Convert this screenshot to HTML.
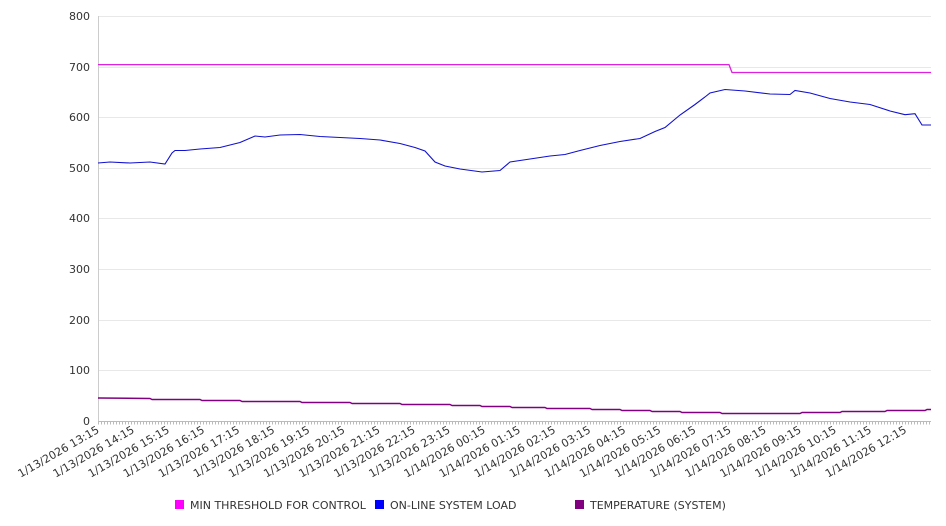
<!DOCTYPE html>
<html><head><meta charset="utf-8"><style>
body{margin:0;background:#fff;}
svg{display:block;font-family:"DejaVu Sans","Liberation Sans",sans-serif;}
</style></head><body>
<svg width="946" height="526" viewBox="0 0 946 526">
<g stroke="#e8e8e8" stroke-width="1">
<line x1="98" y1="16.5" x2="931" y2="16.5"/><line x1="98" y1="67.5" x2="931" y2="67.5"/><line x1="98" y1="117.5" x2="931" y2="117.5"/><line x1="98" y1="168.5" x2="931" y2="168.5"/><line x1="98" y1="218.5" x2="931" y2="218.5"/><line x1="98" y1="269.5" x2="931" y2="269.5"/><line x1="98" y1="320.5" x2="931" y2="320.5"/><line x1="98" y1="370.5" x2="931" y2="370.5"/>
</g>
<line x1="98.5" y1="16" x2="98.5" y2="421" stroke="#ccc"/>
<line x1="98" y1="421.5" x2="931" y2="421.5" stroke="#bbb"/>
<line x1="98" y1="423" x2="931" y2="423" stroke="#bbb" stroke-width="3" stroke-dasharray="1 2"/>
<g font-size="11" fill="#333" text-anchor="end">
<text x="90" y="20">800</text><text x="90" y="71">700</text><text x="90" y="121">600</text><text x="90" y="172">500</text><text x="90" y="222">400</text><text x="90" y="273">300</text><text x="90" y="324">200</text><text x="90" y="374">100</text><text x="90" y="425">0</text>
</g>
<polyline fill="none" stroke="#e020e0" stroke-width="1.3" points="98,64.6 729,64.6 732,72.5 931,72.5"/>
<polyline fill="none" stroke="#1010d0" stroke-width="1.1" points="98,163 110,162 130,163 150,162 165,164 172,153 175,150.5 185,150.5 200,149 220,147.5 240,142.5 255,136 265,137 280,135 300,134.5 320,136.5 340,137.5 360,138.5 380,140 400,143.5 415,147.5 425,151 435,162 445,166 460,169 482,172 500,170.5 510,162 530,159 550,156 565,154.5 580,150.5 600,145.5 620,141.5 640,138.5 655,131.5 665,127.5 680,115 695,104.5 705,97 710,93 725,89.5 745,91 770,94 790,94.5 795,90.5 810,93 830,98.5 850,102 870,104.5 890,111 905,114.7 915,113.7 922,125 931,125"/>
<polyline fill="none" stroke="#800080" stroke-width="1.5" points="98,398 150,398.5 152,399.5 200,399.5 202,400.5 240,400.5 242,401.5 300,401.5 302,402.5 350,402.5 352,403.5 400,403.5 402,404.5 450,404.5 452,405.5 480,405.5 482,406.5 510,406.5 512,407.5 545,407.5 547,408.5 590,408.5 592,409.5 620,409.5 622,410.5 650,410.5 652,411.5 680,411.5 682,412.5 720,412.5 722,413.5 800,413.5 802,412.5 840,412.5 842,411.5 885,411.5 887,410.5 925,410.5 927,409.5 931,409.5"/>
<g font-size="11" fill="#333" text-anchor="end">
<text transform="translate(100,432) rotate(-30)">1/13/2026 13:15</text>
<text transform="translate(135.1,432) rotate(-30)">1/13/2026 14:15</text>
<text transform="translate(170.2,432) rotate(-30)">1/13/2026 15:15</text>
<text transform="translate(205.3,432) rotate(-30)">1/13/2026 16:15</text>
<text transform="translate(240.4,432) rotate(-30)">1/13/2026 17:15</text>
<text transform="translate(275.5,432) rotate(-30)">1/13/2026 18:15</text>
<text transform="translate(310.6,432) rotate(-30)">1/13/2026 19:15</text>
<text transform="translate(345.7,432) rotate(-30)">1/13/2026 20:15</text>
<text transform="translate(380.8,432) rotate(-30)">1/13/2026 21:15</text>
<text transform="translate(415.9,432) rotate(-30)">1/13/2026 22:15</text>
<text transform="translate(451,432) rotate(-30)">1/13/2026 23:15</text>
<text transform="translate(486.1,432) rotate(-30)">1/14/2026 00:15</text>
<text transform="translate(521.2,432) rotate(-30)">1/14/2026 01:15</text>
<text transform="translate(556.3,432) rotate(-30)">1/14/2026 02:15</text>
<text transform="translate(591.4,432) rotate(-30)">1/14/2026 03:15</text>
<text transform="translate(626.5,432) rotate(-30)">1/14/2026 04:15</text>
<text transform="translate(661.6,432) rotate(-30)">1/14/2026 05:15</text>
<text transform="translate(696.7,432) rotate(-30)">1/14/2026 06:15</text>
<text transform="translate(731.8,432) rotate(-30)">1/14/2026 07:15</text>
<text transform="translate(766.9,432) rotate(-30)">1/14/2026 08:15</text>
<text transform="translate(802,432) rotate(-30)">1/14/2026 09:15</text>
<text transform="translate(837.1,432) rotate(-30)">1/14/2026 10:15</text>
<text transform="translate(872.2,432) rotate(-30)">1/14/2026 11:15</text>
<text transform="translate(907.3,432) rotate(-30)">1/14/2026 12:15</text>
</g>
<g font-size="11" fill="#333">
<rect x="175" y="500" width="9" height="9" fill="#ff00ff"/><text x="190" y="509">MIN THRESHOLD FOR CONTROL</text>
<rect x="375" y="500" width="9" height="9" fill="#0000ff"/><text x="390" y="509">ON-LINE SYSTEM LOAD</text>
<rect x="575" y="500" width="9" height="9" fill="#800080"/><text x="590" y="509">TEMPERATURE (SYSTEM)</text>
</g>
</svg>
</body></html>
